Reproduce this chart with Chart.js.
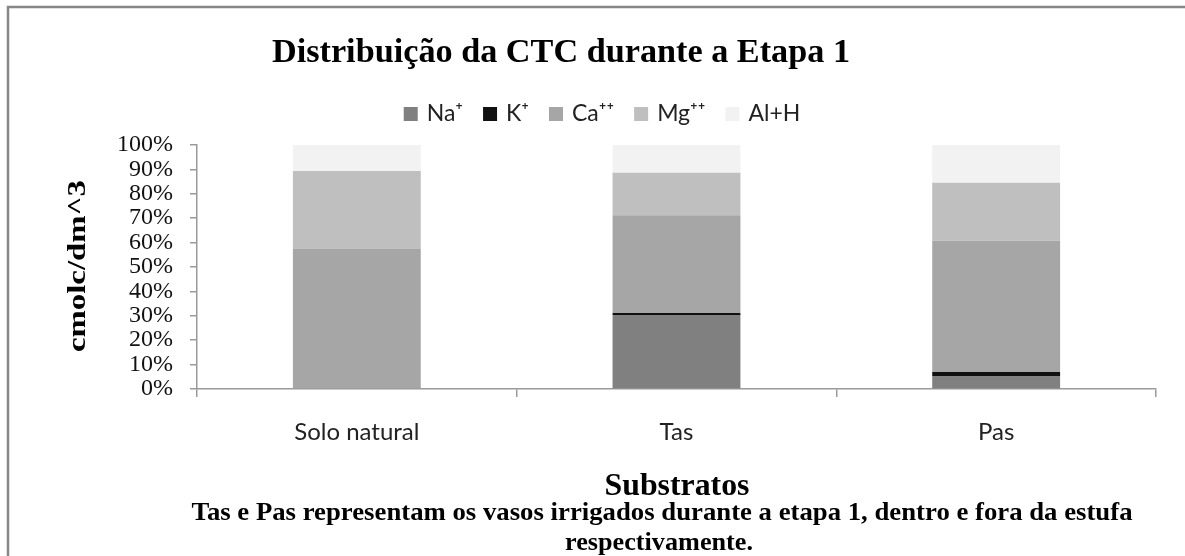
<!DOCTYPE html>
<html>
<head>
<meta charset="utf-8">
<script src="https://cdn.jsdelivr.net/npm/chart.js@4.4.0/dist/chart.umd.min.js"></script>
<style>
  html, body { margin: 0; padding: 0; background: #fff; }
  #wrap { width: 1185px; height: 556px; position: relative; }
</style>
</head>
<body>
<div id="wrap"><canvas id="cv" width="1185" height="556"></canvas></div>
<script>
/* ─── Data (% of CTC) ─── */
const categories  = ['Solo natural', 'Tas', 'Pas'];
const seriesNames = ['Na⁺', 'K⁺', 'Ca⁺⁺', 'Mg⁺⁺', 'Al+H'];
const naValues    = [0, 30.3, 5.1];
const kValues     = [0, 0.8, 1.9];
const caValues    = [57.6, 40.1, 53.8];
const mgValues    = [31.7, 17.4, 23.7];
const alhValues   = [10.7, 11.4, 15.5];
const yTicks      = [0, 10, 20, 30, 40, 50, 60, 70, 80, 90, 100];

const seriesColors = ['#808080', '#111111', '#a6a6a6', '#bfbfbf', '#f2f2f2'];
const AXIS_GRAY = '#9a9a9a';
const SERIF = '"Liberation Serif", "Times New Roman", serif';
const SANS  = 'Lato, "Open Sans", sans-serif';

const TITLE    = 'Distribuição da CTC durante a Etapa 1';
const Y_TITLE  = 'cmolc/dm^3';
const X_TITLE  = 'Substratos';
const NOTE_1   = 'Tas e Pas representam os vasos irrigados durante a etapa 1, dentro e fora da estufa';
const NOTE_2   = 'respectivamente.';

// draws text, stretched/squeezed horizontally to a target width
function fitText(ctx, text, x, y, font, width) {
  ctx.save();
  ctx.font = font;
  ctx.fillStyle = '#000';
  ctx.textAlign = 'center';
  ctx.textBaseline = 'alphabetic';
  const w = ctx.measureText(text).width;
  ctx.translate(x, y);
  ctx.scale(width ? width / w : 1, 1);
  ctx.fillText(text, 0, 0);
  ctx.restore();
}

const framePlugin = {
  id: 'frame',
  beforeDraw(chart) {
    const ctx = chart.ctx;
    ctx.save();
    ctx.fillStyle = '#fff';
    ctx.fillRect(0, 0, chart.width, chart.height);
    ctx.strokeStyle = '#878787';
    ctx.lineWidth = 2.5;
    ctx.strokeRect(8, 7, chart.width + 20, chart.height + 20);
    ctx.restore();
  }
};

const textPlugin = {
  id: 'texts',
  afterDraw(chart) {
    const ctx = chart.ctx;
    fitText(ctx, TITLE, 561, 62, 'bold 34px ' + SERIF, 578);
    fitText(ctx, X_TITLE, 677, 495, 'bold 32px ' + SERIF, 145);
    fitText(ctx, NOTE_1, 662, 520, 'bold 25px ' + SERIF, 941);
    fitText(ctx, NOTE_2, 659, 550, 'bold 25px ' + SERIF, 188);

    // rotated y title
    ctx.save();
    ctx.translate(85, 266);
    ctx.rotate(-Math.PI / 2);
    ctx.font = 'bold 26px ' + SERIF;
    const w = ctx.measureText(Y_TITLE).width;
    ctx.scale(172 / w, 1);
    ctx.fillStyle = '#000';
    ctx.textAlign = 'center';
    ctx.textBaseline = 'alphabetic';
    ctx.fillText(Y_TITLE, 0, 0);
    ctx.restore();

    // legend
    ctx.save();
    ctx.font = '23px ' + SANS;
    ctx.textBaseline = 'middle';
    ctx.textAlign = 'left';
    const box = 14, gapIn = 9, gapOut = 20, cy = 114;
    const items = chart.data.datasets.map(ds => ({
      label: ds.label, color: ds.backgroundColor,
      w: box + gapIn + ctx.measureText(ds.label).width
    }));
    const total = items.reduce((s, it) => s + it.w, 0) + gapOut * (items.length - 1);
    let x = 602 - total / 2;
    items.forEach(it => {
      ctx.fillStyle = it.color;
      ctx.fillRect(x, cy - box / 2, box, box);
      ctx.fillStyle = '#222';
      ctx.fillText(it.label, x + box + gapIn, cy);
      x += it.w + gapOut;
    });
    ctx.restore();
  }
};

const seriesData = [naValues, kValues, caValues, mgValues, alhValues];

new Chart(document.getElementById('cv'), {
  type: 'bar',
  data: {
    labels: categories,
    datasets: seriesData.map((vals, i) => ({
      label: seriesNames[i],
      data: vals,
      backgroundColor: seriesColors[i],
      borderWidth: 0,
      categoryPercentage: 1,
      barPercentage: 0.4
    }))
  },
  options: {
    responsive: false,
    animation: false,
    devicePixelRatio: 1,
    layout: { padding: { top: 145, right: 29, bottom: 0, left: 0 } },
    plugins: {
      legend: { display: false },
      title: { display: false },
      tooltip: { enabled: false }
    },
    scales: {
      x: {
        stacked: true,
        afterFit(s) { s.height = 167; },
        border: { color: AXIS_GRAY, width: 1.5 },
        grid: { drawOnChartArea: false, color: AXIS_GRAY, tickLength: 8, lineWidth: 1.5 },
        ticks: { color: '#222', padding: 21, font: { family: SANS, size: 24 } }
      },
      y: {
        stacked: true,
        min: 0, max: 100,
        afterFit(s) { s.width = 197; },
        afterBuildTicks(s) { s.ticks = yTicks.map(v => ({ value: v })); },
        border: { color: AXIS_GRAY, width: 1.5 },
        grid: { drawOnChartArea: false, color: AXIS_GRAY, tickLength: 7, lineWidth: 1.5 },
        ticks: {
          color: '#111', padding: 17, autoSkip: false,
          font: { family: SERIF, size: 24, lineHeight: 1 },
          callback: v => v + '%'
        }
      }
    }
  },
  plugins: [framePlugin, textPlugin]
});
</script>
</body>
</html>
